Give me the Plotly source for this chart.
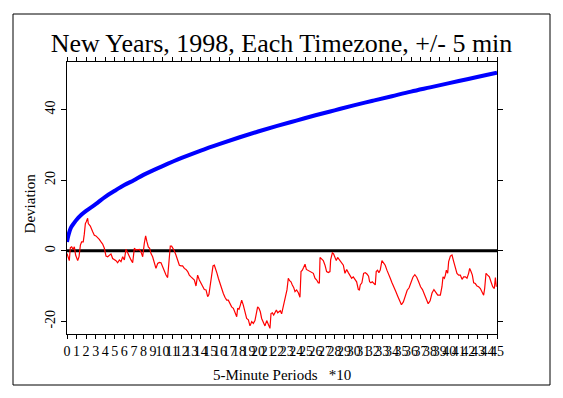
import plotly.graph_objects as go

# ---- data ----
blue_x = [0, 0.15, 0.4, 0.75, 1, 1.5, 2, 3, 4, 5, 6, 7, 8, 9, 10, 12, 14, 16, 18, 20,
          22, 24, 26, 28, 30, 32, 34, 36, 38, 40, 42, 44, 45]
blue_y = [2.5, 4.4, 6.5, 7.9, 8.8, 10.2, 11.3, 13.2, 15.3, 17.0, 18.6, 20.0, 21.5, 22.8,
          24.0, 26.3, 28.4, 30.3, 32.1, 33.8, 35.4, 36.9, 38.4, 39.8, 41.2, 42.5, 43.8,
          45.1, 46.3, 47.5, 48.7, 49.9, 50.5]

red_x = [0.00, 0.14, 0.24, 0.35, 0.49, 0.63, 0.77, 0.90, 1.12, 1.26, 1.40, 1.53, 1.70, 1.81,
         1.92, 2.02, 2.16, 2.23, 2.44, 2.69, 2.86, 3.03, 3.21, 3.38, 3.56, 3.73, 3.91, 4.08,
         4.26, 4.43, 4.60, 4.78, 4.95, 5.13, 5.30, 5.48, 5.65, 5.83, 6.00, 6.17, 6.35, 6.52,
         6.70, 6.87, 7.05, 7.22, 7.40, 7.57, 7.74, 7.92, 8.09, 8.23, 8.37, 8.51, 8.65, 8.79,
         8.96, 9.14, 9.31, 9.49, 9.66, 9.84, 10.01, 10.18, 10.36, 10.53, 10.71, 10.81, 10.95,
         11.09, 11.23, 11.40, 11.58, 11.76, 11.93, 12.10, 12.28, 12.45, 12.63, 12.80, 12.98,
         13.15, 13.33, 13.50, 13.67, 13.85, 14.02, 14.20, 14.37, 14.55, 14.72, 14.85, 15.00,
         15.14, 15.28, 15.42, 15.56, 15.70, 15.84, 16.01, 16.19, 16.36, 16.53, 16.71, 16.88,
         17.06, 17.23, 17.41, 17.58, 17.76, 17.86, 18.00, 18.14, 18.28, 18.45, 18.63, 18.80,
         18.98, 19.15, 19.33, 19.50, 19.67, 19.85, 19.95, 20.09, 20.23, 20.37, 20.55, 20.72,
         20.90, 21.07, 21.24, 21.35, 21.49, 21.63, 21.77, 21.91, 22.05, 22.19, 22.32, 22.46,
         22.60, 22.74, 22.88, 23.02, 23.16, 23.30, 23.44, 23.58, 23.72, 23.86, 24.03, 24.21,
         24.38, 24.49, 24.63, 24.77, 24.91, 25.05, 25.18, 25.32, 25.46, 25.60, 25.78, 25.95,
         26.13, 26.30, 26.41, 26.48, 26.65, 26.82, 27.00, 27.17, 27.35, 27.52, 27.59, 27.77,
         27.90, 28.04, 28.18, 28.32, 28.46, 28.60, 28.74, 28.92, 29.09, 29.27, 29.44, 29.62,
         29.79, 29.96, 30.14, 30.31, 30.49, 30.60, 30.69, 30.86, 31.04, 31.21, 31.39, 31.56,
         31.67, 31.80, 31.95, 32.08, 32.26, 32.36, 32.50, 32.64, 32.78, 32.96, 33.13, 33.30,
         33.48, 33.65, 33.83, 34.00, 34.20, 34.40, 34.60, 34.80, 35.00, 35.20, 35.40, 35.60,
         35.80, 36.00, 36.20, 36.40, 36.60, 36.80, 37.00, 37.20, 37.40, 37.60, 37.80, 38.00,
         38.20, 38.40, 38.60, 38.80, 39.07, 39.24, 39.35, 39.49, 39.60, 39.70, 39.84, 39.94,
         40.12, 40.29, 40.47, 40.64, 40.81, 40.99, 41.16, 41.34, 41.51, 41.69, 41.86, 42.03,
         42.14, 42.28, 42.42, 42.56, 42.73, 42.91, 43.08, 43.26, 43.43, 43.60, 43.71, 43.85,
         44.02, 44.20, 44.37, 44.55, 44.72, 44.83, 44.93]
red_y = [-0.8, -1.7, -2.8, 0.9, 1.1, 0.4, 1.1, -1.2, -2.8, -1.7, 1.6, 2.5, 2.5, 4.7,
         7.7, 8.2, 9.2, 7.7, 7.0, 5.4, 4.4, 4.2, 3.8, 3.2, 2.5, 1.9, 0.7, -1.5,
         -1.7, -1.2, -0.9, -2.2, -2.5, -2.8, -3.4, -2.6, -3.1, -1.7, -2.6, 0.4, -0.6, -1.7,
         -2.6, -3.4, 0.7, 0.2, 0.4, 0.4, -0.3, -1.7, 2.1, 4.2, 2.5, 1.1, 0.7, -0.8,
         -1.7, -3.1, -5.0, -3.6, -3.3, -3.4, -4.5, -5.9, -6.9, -7.6, -1.7, 1.3, 1.3,
         0.7, 0.0, -1.2, -2.6, -4.1, -4.3, -4.3, -5.0, -5.3, -5.9, -6.9, -7.4,
         -7.8, -8.3, -10.0, -6.9, -8.3, -9.3, -10.4, -11.0, -11.1, -13.0, -12.4, -10.0,
         -7.4, -4.3, -4.1, -5.0, -6.4, -7.8, -9.3, -11.0, -12.1, -13.2, -14.0, -14.0,
         -15.1, -15.9, -16.3, -17.8, -18.7, -16.3, -16.6, -15.4, -14.0, -15.4, -17.8, -19.2,
         -19.6, -21.3, -20.1, -20.6, -19.8, -17.3, -15.9, -16.3, -17.3, -19.2, -20.6, -21.3,
         -19.8, -21.1, -22.0, -17.8, -17.6, -18.2, -17.6, -16.8, -17.6, -17.3, -17.0, -17.9,
         -15.9, -13.8, -12.8, -11.1, -7.8, -8.5, -8.8, -9.7, -10.4, -11.6, -11.1, -11.9,
         -13.2, -5.9, -5.5, -4.7, -3.8, -5.3, -5.5, -5.9, -5.9, -6.2, -6.4, -7.8,
         -8.3, -9.1, -9.1, -1.9, -2.5, -2.8, -4.1, -5.9, -6.2, -5.9, -2.6, -0.6,
         -0.9, -1.9, -2.8, -1.9, -2.5, -3.1, -3.4, -4.1, -6.4, -5.3, -6.2, -6.9,
         -7.8, -7.4, -8.3, -8.8, -11.0, -11.1, -9.7, -9.1, -6.4, -6.2, -6.6, -7.2,
         -8.8, -9.1, -8.8, -9.3, -9.7, -5.9, -5.5, -6.2, -5.5, -2.8, -3.4, -4.1,
         -5.5, -6.4, -7.8, -9.0, -10.5, -11.5, -12.8, -14.0, -15.3, -14.5, -13.0, -11.2,
         -10.5, -9.0, -7.5, -6.8, -7.5, -8.8, -10.2, -11.0, -12.5, -13.8, -15.0, -14.2,
         -12.0, -11.0, -11.8, -12.6, -12.6, -10.2, -7.4, -7.8, -6.9, -5.5, -6.4, -3.1,
         -1.5, -1.2, -3.1, -4.5, -6.4, -6.9, -6.9, -8.1, -7.4, -7.4, -7.8, -6.4,
         -5.0, -5.9, -6.9, -9.1, -9.3, -10.0, -10.2, -10.7, -11.6, -12.6, -10.7, -6.4,
         -6.9, -7.4, -8.8, -10.2, -10.7, -7.6, -10.2]

zero_x = [0, 45]
zero_y = [0, 0]

x_ticks = list(range(0, 46))
x_tick_labels = [str(v) for v in x_ticks]
y_ticks = [-20, 0, 20, 40]
y_tick_labels = ["-20", "0", "20", "40"]

title_text = "New Years, 1998, Each Timezone, +/- 5 min"
x_label = "5-Minute Periods\u00a0\u00a0\u00a0*10"
y_label = "Deviation"

FONT = "Liberation Serif, Times New Roman, serif"

fig = go.Figure()
fig.add_trace(go.Scatter(x=zero_x, y=zero_y, mode="lines",
                         line=dict(color="black", width=3), hoverinfo="skip"))
fig.add_trace(go.Scatter(x=red_x, y=red_y, mode="lines",
                         line=dict(color="#ff0000", width=1.2)))
fig.add_trace(go.Scatter(x=blue_x, y=blue_y, mode="lines", line_shape="spline",
                         line=dict(color="#0000ff", width=4)))

fig.update_layout(
    width=563, height=398,
    margin=dict(l=67, r=66, t=62, b=64, autoexpand=False),
    paper_bgcolor="white", plot_bgcolor="white",
    showlegend=False,
    font=dict(family=FONT, color="black"),
    title=dict(text=title_text, x=0.5, xanchor="center", y=1 - 43 / 398, yanchor="middle",
               automargin=False,
               font=dict(family=FONT, size=26, color="black")),
    xaxis=dict(range=[0, 45], tickmode="array", tickvals=x_ticks, ticktext=x_tick_labels,
               tickangle=0, ticks="outside", ticklen=4, tickwidth=1, tickcolor="black",
               showline=True, linecolor="black", linewidth=1, mirror="ticks",
               automargin=False,
               showgrid=False, zeroline=False, tickfont=dict(size=14, family=FONT)),
    yaxis=dict(range=[-23.6, 53.5], tickmode="array", tickvals=y_ticks, ticktext=y_tick_labels,
               tickangle=-90, ticks="outside", ticklen=5, tickwidth=1, tickcolor="black",
               showline=True, linecolor="black", linewidth=1, mirror="ticks",
               automargin=False,
               showgrid=False, zeroline=False, tickfont=dict(size=14, family=FONT)),
    annotations=[
        dict(text=x_label, xref="paper", yref="paper", x=0.5, y=(334 - 375) / 272,
             xanchor="center", yanchor="middle", showarrow=False,
             font=dict(family=FONT, size=15, color="black")),
        dict(text=y_label, xref="paper", yref="paper", x=(30 - 67) / 430, y=0.48,
             xanchor="center", yanchor="middle", textangle=-90, showarrow=False,
             font=dict(family=FONT, size=15, color="black")),
    ],
    shapes=[
        dict(type="rect", xref="paper", yref="paper",
             x0=(13 - 67) / 430, x1=(550 - 67) / 430,
             y0=(334 - 385) / 272, y1=(334 - 14) / 272,
             line=dict(color="black", width=1), fillcolor="rgba(0,0,0,0)", layer="below"),
    ],
)

fig.write_html("out.html",
               config={"displayModeBar": False},
               post_script="document.body.style.margin='0';document.body.style.padding='0';")
